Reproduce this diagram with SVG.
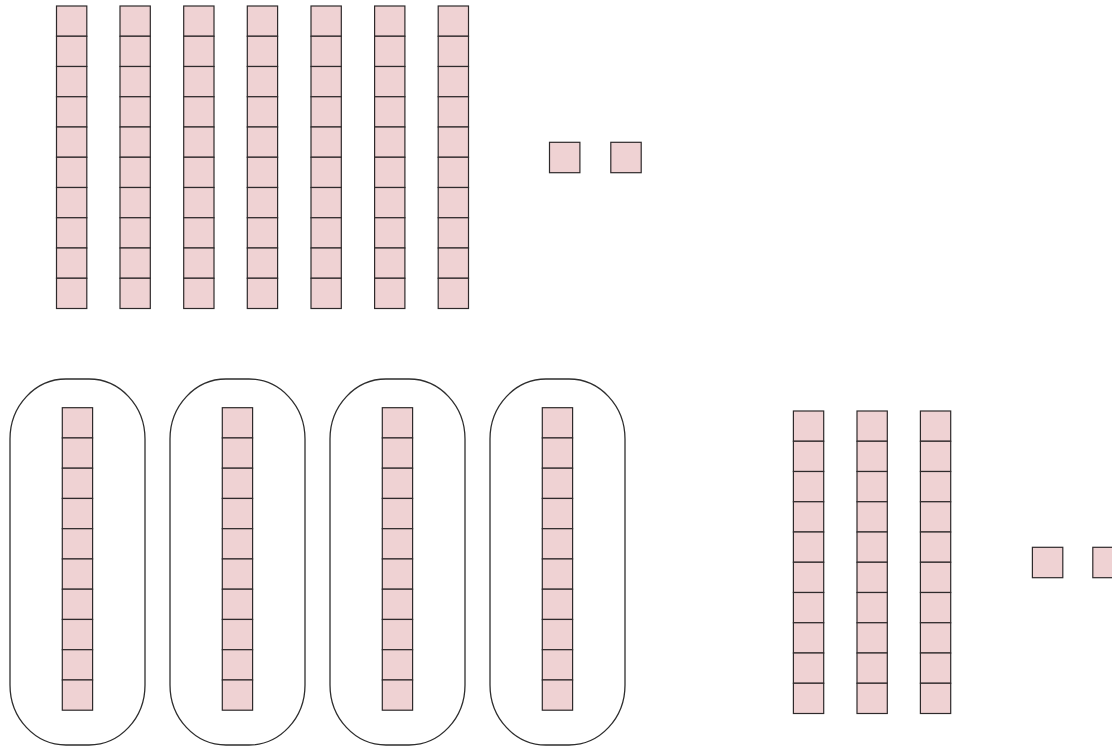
<svg xmlns="http://www.w3.org/2000/svg" xmlns:xlink="http://www.w3.org/1999/xlink" width="1112" height="747" viewBox="0 0 1112 747">
<style>
.c{fill:#efd2d3;stroke:#2e2a2b;stroke-width:1.2}
.o{fill:none;stroke:#2e2e2e;stroke-width:1.3}
</style>
<defs>
<g id="col">
<rect class="c" x="0" y="0" width="30.3" height="30.25"/>
<rect class="c" x="0" y="30.25" width="30.3" height="30.25"/>
<rect class="c" x="0" y="60.5" width="30.3" height="30.25"/>
<rect class="c" x="0" y="90.75" width="30.3" height="30.25"/>
<rect class="c" x="0" y="121" width="30.3" height="30.25"/>
<rect class="c" x="0" y="151.25" width="30.3" height="30.25"/>
<rect class="c" x="0" y="181.5" width="30.3" height="30.25"/>
<rect class="c" x="0" y="211.75" width="30.3" height="30.25"/>
<rect class="c" x="0" y="242" width="30.3" height="30.25"/>
<rect class="c" x="0" y="272.25" width="30.3" height="30.25"/>
</g>
<rect id="unit" class="c" x="0" y="0" width="30.4" height="30.4"/>
</defs>
<rect width="1112" height="747" fill="#ffffff"/>
<g id="top-tens">
<use id="t1" xlink:href="#col" x="56.5" y="6"/>
<use id="t2" xlink:href="#col" x="120" y="6"/>
<use id="t3" xlink:href="#col" x="183.7" y="6"/>
<use id="t4" xlink:href="#col" x="247.3" y="6"/>
<use id="t5" xlink:href="#col" x="311" y="6"/>
<use id="t6" xlink:href="#col" x="374.6" y="6"/>
<use id="t7" xlink:href="#col" x="438.2" y="6"/>
</g>
<g id="top-ones">
<use id="u1" xlink:href="#unit" x="549.5" y="142.3"/>
<use id="u2" xlink:href="#unit" x="610.8" y="142.3"/>
</g>
<g id="groups">
<g id="g1"><rect class="o" x="10" y="379" width="135" height="366" rx="56" ry="60"/><use xlink:href="#col" x="62.3" y="407.7"/></g>
<g id="g2"><rect class="o" x="170" y="379" width="135" height="366" rx="56" ry="60"/><use xlink:href="#col" x="222.3" y="407.7"/></g>
<g id="g3"><rect class="o" x="330" y="379" width="135" height="366" rx="56" ry="60"/><use xlink:href="#col" x="382.3" y="407.7"/></g>
<g id="g4"><rect class="o" x="490" y="379" width="135" height="366" rx="56" ry="60"/><use xlink:href="#col" x="542.3" y="407.7"/></g>
</g>
<g id="bottom-tens">
<use id="b1" xlink:href="#col" x="793.4" y="411"/>
<use id="b2" xlink:href="#col" x="857" y="411"/>
<use id="b3" xlink:href="#col" x="920.4" y="411"/>
</g>
<g id="bottom-ones">
<use id="v1" xlink:href="#unit" x="1032.4" y="547.3"/>
<use id="v2" xlink:href="#unit" x="1092.8" y="547.3"/>
</g>
<g id="connectors"/>
</svg>
